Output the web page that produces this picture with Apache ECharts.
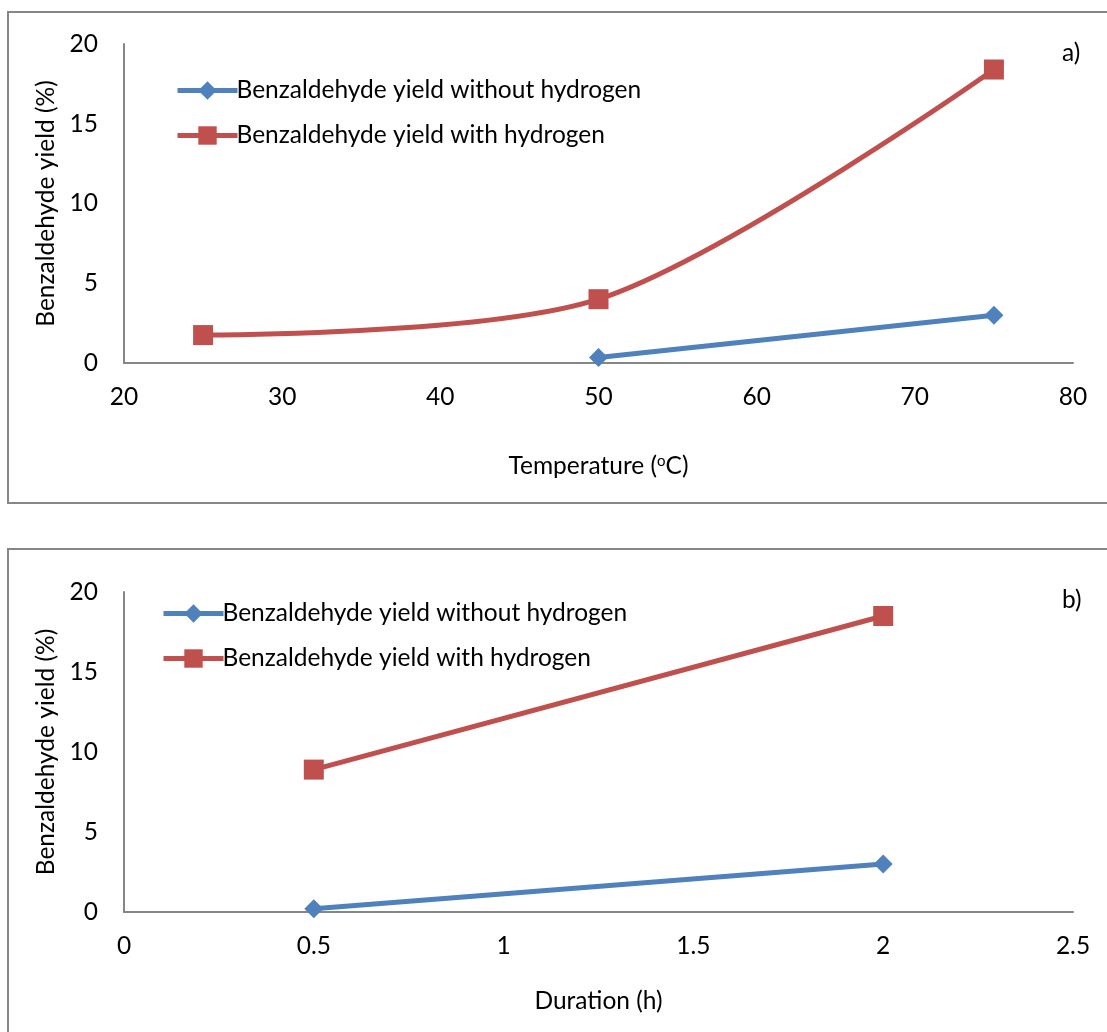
<!DOCTYPE html>
<html>
<head>
<meta charset="utf-8">
<script src="https://cdn.jsdelivr.net/npm/echarts@6/dist/echarts.min.js"></script>
<style>
  html, body { margin: 0; padding: 0; background: #fff; }
  #chart { width: 1107px; height: 1032px; }
</style>
</head>
<body>
<div id="chart"></div>
<script>
// Panel a: yield vs temperature
const tempWithout = [[50, 0.35], [75, 3.0]];
const tempWith = [[25, 1.75], [50, 4.0], [75, 18.4]];
// Panel b: yield vs duration
const durWithout = [[0.5, 0.2], [2, 3.0]];
const durWith = [[0.5, 8.9], [2, 18.5]];

const nameWithout = 'Benzaldehyde yield without hydrogen';
const nameWith = 'Benzaldehyde yield with hydrogen';

const BLUE = '#4F81BD';
const RED = '#C0504D';
const AXIS = '#868686';
const FONT = 'Lato';
const FS = 24.5;

const chart = echarts.init(document.getElementById('chart'), null, { renderer: 'canvas' });

function xAxisCfg(grid, min, max, interval, name, gap, rich) {
  return {
    type: 'value', gridIndex: grid, min, max, interval,
    name, nameLocation: 'middle', nameGap: gap,
    nameTextStyle: Object.assign({ fontFamily: FONT, fontSize: FS, color: '#000' }, rich ? { rich } : {}),
    axisLine: { show: true, lineStyle: { color: AXIS, width: 2 } },
    axisTick: { show: false },
    splitLine: { show: false },
    axisLabel: { fontFamily: FONT, fontSize: FS, color: '#000', margin: 22 }
  };
}
function yAxisCfg(grid) {
  return {
    type: 'value', gridIndex: grid, min: 0, max: 20, interval: 5,
    name: 'Benzaldehyde yield (%)', nameLocation: 'middle', nameGap: 62,
    nameTextStyle: { fontFamily: FONT, fontSize: FS, color: '#000' },
    axisLine: { show: true, lineStyle: { color: AXIS, width: 2 } },
    axisTick: { show: false },
    splitLine: { show: false },
    axisLabel: { fontFamily: FONT, fontSize: FS, color: '#000', margin: 26 }
  };
}
function lineSeries(name, data, color, symbol, size, ax, smooth) {
  return {
    type: 'line', name, data, xAxisIndex: ax, yAxisIndex: ax,
    smooth: smooth ? 0.3 : false,
    symbol, symbolSize: size,
    lineStyle: { color, width: 5 },
    itemStyle: { color },
    emphasis: { disabled: true },
    animation: false
  };
}
function legendCfg(left, top) {
  return {
    left, top, orient: 'vertical', padding: 0, itemGap: 20, itemWidth: 60, itemHeight: 23,
    lineStyle: { width: 5 },
    textStyle: { fontFamily: FONT, fontSize: FS, color: '#000', padding: [0, 0, 0, -6] },
    data: [nameWithout, nameWith], selectedMode: false
  };
}

chart.setOption({
  backgroundColor: '#fff',
  animation: false,
  graphic: [
    { type: 'rect', shape: { x: 8, y: 12, width: 1120, height: 491 },
      style: { fill: 'none', stroke: AXIS, lineWidth: 2 }, silent: true },
    { type: 'rect', shape: { x: 8, y: 549, width: 1120, height: 520 },
      style: { fill: 'none', stroke: AXIS, lineWidth: 2 }, silent: true },
    { type: 'text', left: 1062, top: 41,
      style: { text: 'a)', fontFamily: FONT, fontSize: FS, fill: '#000' } },
    { type: 'text', left: 1062, top: 588,
      style: { text: 'b)', fontFamily: FONT, fontSize: FS, fill: '#000' } }
  ],
  grid: [
    { left: 124, right: 34, top: 44, height: 319 },
    { left: 124, right: 34, top: 592, height: 320 }
  ],
  xAxis: [
    xAxisCfg(0, 20, 80, 10, '{t|Temperature (}{s|o}{t|C)}', 91,
      { t: { fontFamily: FONT, fontSize: FS, color: '#000' },
        s: { fontFamily: FONT, fontSize: 15, color: '#000', verticalAlign: 'top', padding: [0, 0, 9, 0] } }),
    xAxisCfg(1, 0, 2.5, 0.5, 'Duration (h)', 77)
  ],
  yAxis: [yAxisCfg(0), yAxisCfg(1)],
  legend: [legendCfg(175, 78), legendCfg(161, 601)],
  series: [
    lineSeries(nameWithout, tempWithout, BLUE, 'diamond', 19, 0, false),
    lineSeries(nameWith, tempWith, RED, 'rect', 20, 0, true),
    lineSeries(nameWithout, durWithout, BLUE, 'diamond', 19, 1, false),
    lineSeries(nameWith, durWith, RED, 'rect', 20, 1, false)
  ]
});
</script>
</body>
</html>
